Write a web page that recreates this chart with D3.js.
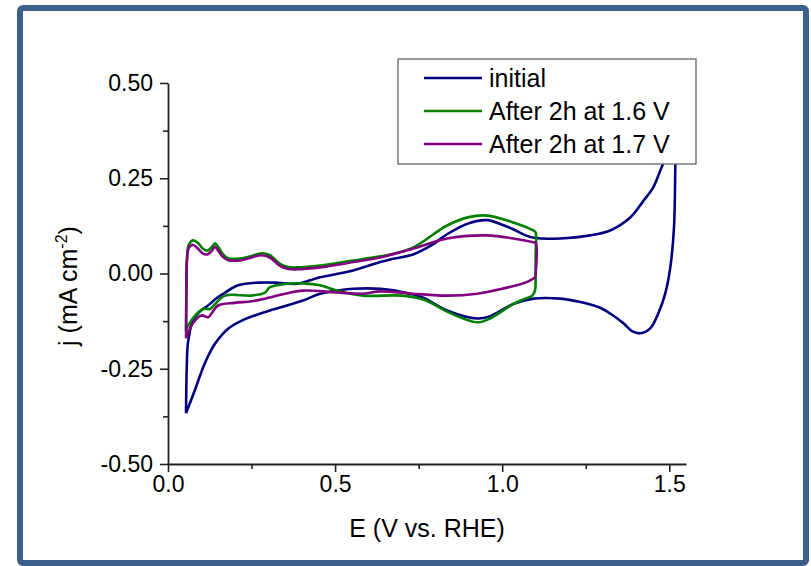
<!DOCTYPE html>
<html>
<head>
<meta charset="utf-8">
<script src="https://cdn.jsdelivr.net/npm/d3@7"></script>
<style>
  body { margin: 0; background: #fff; }
  svg { display: block; font-family: "Liberation Sans", Arial, sans-serif; }
</style>
</head>
<body>
<div id="cv"></div>
<script>
// cyclic voltammograms, [E (V vs RHE), j (mA cm-2)]
const initial = [
  [0.054, -0.367], [0.056, -0.25], [0.06, -0.18], [0.075, -0.123], [0.095, -0.1],
  [0.12, -0.084], [0.145, -0.065], [0.171, -0.05], [0.21, -0.031], [0.27, -0.024],
  [0.32, -0.024], [0.386, -0.027], [0.425, -0.018], [0.455, -0.01], [0.554, 0.008],
  [0.635, 0.03], [0.665, 0.037], [0.733, 0.05], [0.79, 0.075], [0.835, 0.103],
  [0.9, 0.132], [0.955, 0.14], [1.0, 0.128], [1.033, 0.116], [1.07, 0.1],
  [1.1, 0.093], [1.174, 0.092], [1.263, 0.1], [1.323, 0.113], [1.383, 0.147],
  [1.422, 0.19], [1.452, 0.226], [1.473, 0.27], [1.5, 0.33], [1.515, 0.38],
  [1.52, 0.4], [1.518, 0.28], [1.514, 0.12], [1.503, 0.016], [1.488, -0.052],
  [1.467, -0.105], [1.443, -0.144], [1.413, -0.157], [1.39, -0.152], [1.362, -0.13],
  [1.323, -0.105], [1.293, -0.09], [1.234, -0.075], [1.174, -0.066], [1.093, -0.066],
  [1.033, -0.08], [0.964, -0.112], [0.925, -0.118], [0.835, -0.097], [0.76, -0.062],
  [0.68, -0.045], [0.635, -0.04], [0.554, -0.04], [0.506, -0.045], [0.455, -0.053],
  [0.404, -0.071], [0.305, -0.097], [0.26, -0.11], [0.222, -0.123], [0.18, -0.145],
  [0.141, -0.184], [0.11, -0.236], [0.08, -0.307], [0.054, -0.367]
];

const after16 = [
  [0.054, -0.15], [0.055, -0.05], [0.057, 0.04], [0.062, 0.075], [0.075, 0.087],
  [0.09, 0.08], [0.105, 0.065], [0.117, 0.06], [0.13, 0.068], [0.141, 0.079],
  [0.15, 0.07], [0.165, 0.05], [0.18, 0.04], [0.22, 0.04], [0.25, 0.046],
  [0.28, 0.053], [0.305, 0.048], [0.335, 0.025], [0.36, 0.017], [0.386, 0.016],
  [0.455, 0.021], [0.554, 0.034], [0.635, 0.045], [0.665, 0.05], [0.733, 0.068],
  [0.835, 0.126], [0.9, 0.148], [0.955, 0.152], [1.033, 0.134], [1.093, 0.113],
  [1.1, 0.108], [1.1, 0.05], [1.1, -0.01], [1.098, -0.045], [1.09, -0.058],
  [1.069, -0.066], [1.033, -0.08], [0.964, -0.118], [0.925, -0.128], [0.835, -0.1],
  [0.77, -0.07], [0.7, -0.058], [0.584, -0.058], [0.506, -0.045], [0.455, -0.031],
  [0.404, -0.026], [0.356, -0.027], [0.305, -0.036], [0.29, -0.05], [0.25, -0.058],
  [0.171, -0.058], [0.141, -0.08], [0.126, -0.093], [0.105, -0.093], [0.087, -0.105],
  [0.06, -0.137], [0.054, -0.15]
];

const after17 = [
  [0.054, -0.17], [0.055, -0.05], [0.057, 0.04], [0.063, 0.068], [0.075, 0.075],
  [0.09, 0.065], [0.105, 0.052], [0.117, 0.05], [0.13, 0.058], [0.141, 0.07],
  [0.15, 0.06], [0.165, 0.043], [0.18, 0.035], [0.22, 0.035], [0.25, 0.042],
  [0.28, 0.048], [0.305, 0.042], [0.335, 0.02], [0.36, 0.012], [0.386, 0.011],
  [0.455, 0.016], [0.554, 0.03], [0.635, 0.042], [0.733, 0.065], [0.835, 0.092],
  [0.955, 0.1], [1.033, 0.092], [1.093, 0.082], [1.1, 0.08], [1.1, 0.0],
  [1.098, -0.01], [1.069, -0.024], [1.0, -0.04], [0.925, -0.053], [0.835, -0.058],
  [0.733, -0.053], [0.635, -0.047], [0.584, -0.053], [0.506, -0.05], [0.404, -0.045],
  [0.35, -0.053], [0.29, -0.066], [0.25, -0.073], [0.2, -0.077], [0.15, -0.084],
  [0.13, -0.105], [0.12, -0.115], [0.1, -0.11], [0.075, -0.13], [0.054, -0.17]
];

const seriesNames = ["initial", "After 2h at 1.6 V", "After 2h at 1.7 V"];
const seriesColors = ["#000080", "#008000", "#800080"];
const xTicks = [0, 0.5, 1.0, 1.5];
const yTicks = [-0.5, -0.25, 0, 0.25, 0.5];

const W = 811, H = 566;
const margin = {top: 83, right: 125, bottom: 102, left: 168},
    width = W - margin.left - margin.right,
    height = H - margin.top - margin.bottom;

const root = d3.select("#cv").append("svg")
    .attr("width", W)
    .attr("height", H);

// frame around the figure
root.append("rect")
    .attr("x", 20).attr("y", 8)
    .attr("width", 786).attr("height", 555)
    .attr("rx", 3)
    .attr("fill", "none")
    .attr("stroke", "#3d5f8c")
    .attr("stroke-width", 6);

const svg = root.append("g")
    .attr("transform", `translate(${margin.left}, ${margin.top})`);

const x = d3.scaleLinear().domain([0, 1.55]).range([0, width]);
const y = d3.scaleLinear().domain([-0.5, 0.5]).range([height, 0]);

// minor ticks first, then major ones with labels
svg.append("g")
    .attr("transform", `translate(0, ${height})`)
    .call(d3.axisBottom(x).tickValues([0.25, 0.75, 1.25]).tickSize(5).tickFormat(""))
    .call(g => g.select(".domain").remove());
svg.append("g")
    .call(d3.axisLeft(y).tickValues([-0.375, -0.125, 0.125, 0.375]).tickSize(5).tickFormat(""))
    .call(g => g.select(".domain").remove());

const xAxis = svg.append("g")
    .attr("transform", `translate(0, ${height})`)
    .call(d3.axisBottom(x).tickValues(xTicks).tickSize(8).tickPadding(4)
        .tickSizeOuter(0).tickFormat(d3.format(".1f")));
const yAxis = svg.append("g")
    .call(d3.axisLeft(y).tickValues(yTicks).tickSize(8).tickPadding(7)
        .tickSizeOuter(0).tickFormat(d3.format(".2f")));

[xAxis, yAxis].forEach(a => {
    a.selectAll("text").attr("font-size", 23).attr("fill", "#000")
        .attr("font-family", "Liberation Sans, Arial, sans-serif");
});
svg.selectAll(".tick line").attr("stroke", "#222").attr("stroke-width", 1.6);
svg.selectAll(".domain").attr("stroke", "#222").attr("stroke-width", 1.8);
yAxis.selectAll("text").text(d => d < 0 ? "-" + d3.format(".2f")(-d) : d3.format(".2f")(d));

const line = d3.line()
    .x(d => x(d[0]))
    .y(d => y(d[1]))
    .curve(d3.curveCatmullRom.alpha(0.5));

[initial, after16, after17].forEach((data, i) => {
    svg.append("path")
        .datum(data)
        .attr("fill", "none")
        .attr("stroke", seriesColors[i])
        .attr("stroke-width", 2.6)
        .attr("stroke-linejoin", "round")
        .attr("d", line);
});

// axis titles
svg.append("text")
    .attr("x", width / 2)
    .attr("y", height + 73)
    .attr("text-anchor", "middle")
    .attr("font-size", 25)
    .text("E (V vs. RHE)");

const yTitle = root.append("text")
    .attr("transform", "translate(77, 286) rotate(-90)")
    .attr("text-anchor", "middle")
    .attr("font-size", 25);
yTitle.append("tspan").text("j (mA cm");
yTitle.append("tspan").attr("font-size", 16).attr("dy", -10).text("-2");
yTitle.append("tspan").attr("dy", 10).text(")");

// legend
const legend = root.append("g").attr("transform", "translate(398, 59)");
legend.append("rect")
    .attr("width", 298).attr("height", 105)
    .attr("fill", "#fff")
    .attr("stroke", "#666")
    .attr("stroke-width", 1.3);
seriesNames.forEach((name, i) => {
    const cy = 19 + i * 33;
    legend.append("line")
        .attr("x1", 26).attr("x2", 84)
        .attr("y1", cy).attr("y2", cy)
        .attr("stroke", seriesColors[i])
        .attr("stroke-width", 2.6);
    legend.append("text")
        .attr("x", 91).attr("y", cy + 9)
        .attr("font-size", 25)
        .text(name);
});
</script>
</body>
</html>
